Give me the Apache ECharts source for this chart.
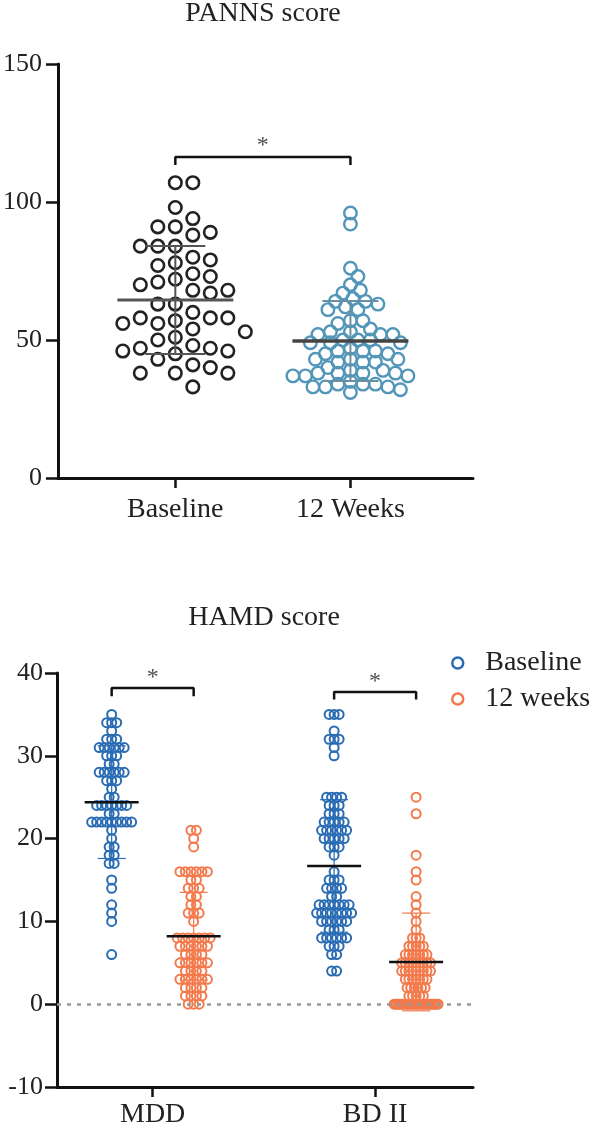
<!DOCTYPE html>
<html>
<head>
<meta charset="utf-8">
<script src="https://cdn.jsdelivr.net/npm/echarts@6/dist/echarts.min.js"></script>
<style>
  html, body { margin: 0; padding: 0; background: #fff; }
  #chart { width: 595px; height: 1129px; }
</style>
</head>
<body>
<div id="chart"></div>
<script>
// ---- PANNS score (top panel) ----
const pannsGroups = ['Baseline', '12 Weeks'];
const pannsBaseline = [107, 107, 98, 94, 91, 91, 89, 88, 84, 84, 84, 80, 79, 78, 77, 74, 73, 72, 71, 70,
  68, 68, 67, 63, 63, 60, 58, 58, 58, 57, 56, 56, 54, 53, 51, 50, 48, 47, 47, 46, 46, 45, 43, 41, 40,
  38, 38, 38, 33];
const panns12w = [96, 92, 76, 73, 70, 68, 67, 65, 64, 64, 63, 62, 61, 61, 57, 57, 56, 54, 53, 53, 52, 52,
  52, 50, 50, 50, 49, 49, 49, 47, 46, 46, 46, 45, 45, 43, 43, 43, 42, 42, 42, 40, 39, 39, 38, 38, 38, 38,
  37, 37, 37, 35, 34, 34, 34, 33, 33, 33, 32, 31];
const pannsMean = [64.5, 49.6];
const pannsSD = [19.6, 14.5];
// bracket: [from group, to group, top y, arm end y, star y]
const pannsBracket = [1, 2, 116.3, 113.4, 120.5];

// ---- HAMD score (bottom panel) ----
const hamdGroups = ['MDD', 'BD II'];
const hamdSeriesNames = ['Baseline', '12 weeks'];
const hamdMddBaseline = [35, 34, 34, 34, 33, 32, 32, 32, 31, 31, 31, 31, 31, 31, 30, 30, 30, 29, 29,
  28, 28, 28, 28, 28, 28, 27, 27, 27, 26, 25, 25, 24, 24, 24, 24, 24, 24, 24, 23, 23,
  22, 22, 22, 22, 22, 22, 22, 22, 22, 21, 20, 19, 19, 18, 18, 17, 17, 15, 14, 12, 11, 10, 6];
const hamdMdd12w = [21, 21, 20, 19, 16, 16, 16, 16, 16, 16, 15, 15, 14, 14, 14, 13, 13, 12, 12, 11, 11, 11,
  10, 8, 8, 8, 8, 8, 8, 8, 7, 7, 7, 7, 7, 7, 6, 6, 6, 6, 5, 5, 5, 5, 5, 5, 4, 4, 4, 4,
  3, 3, 3, 3, 3, 3, 2, 2, 2, 2, 1, 1, 1, 1, 0, 0, 0];
const hamdBd2Baseline = [35, 35, 35, 33, 32, 32, 32, 31, 30, 25, 25, 25, 25, 24, 24, 24, 23, 23, 23,
  22, 22, 22, 22, 22, 21, 21, 21, 21, 21, 21, 20, 20, 20, 20, 20, 19, 19, 19, 18, 16, 15, 15, 15,
  14, 14, 14, 14, 13, 13, 12, 12, 12, 12, 12, 12, 12, 11, 11, 11, 11, 11, 11, 11, 11,
  10, 10, 10, 10, 10, 10, 9, 9, 9, 8, 8, 8, 8, 8, 8, 7, 7, 7, 6, 6, 4, 4];
const hamdBd212w = [25, 23, 18, 16, 15, 13, 12, 11, 10, 9, 8, 8, 8, 7, 7, 7, 7, 7, 6, 6, 6, 6, 6, 6, 6,
  5, 5, 5, 5, 5, 5, 5, 5, 5, 4, 4, 4, 4, 4, 4, 4, 4, 4, 3, 3, 3, 3, 3, 3, 3, 2, 2, 2, 2, 2, 2,
  1, 1, 1, 1, 1,
  0, 0, 0, 0, 0, 0, 0, 0, 0, 0, 0, 0, 0, 0, 0, 0, 0, 0, 0, 0, 0, 0, 0, 0, 0, 0];
const hamdBaselineMean = [24.4, 16.7];
const hamdBaselineSD = [6.8, 8.0];
const hamd12wMean = [8.2, 5.1];
const hamd12wSD = [5.3, 5.9];
// bracket: [group, top y, arm end y, star y]
const hamdBrackets = [
  [1, 38.2, 37.2, 39.4],
  [2, 37.7, 36.8, 38.9]
];

// ---- layout ----
const FONT = "'Liberation Serif', 'Times New Roman', serif";
const TOP = { left: 58, top: 64, width: 415, height: 414, xMin: 0.33, xMax: 2.7, yMin: 0, yMax: 150 };
const BOT = { left: 57, top: 673, width: 416, height: 415, xMin: 0.57, xMax: 2.44, yMin: -10, yMax: 40 };
const pxX = g => g.width / (g.xMax - g.xMin);
const pxY = g => g.height / (g.yMax - g.yMin);
const HAMD_DODGE = 41; // px between group centre and each series column

const colors = {
  pannsBase: '#222222',
  panns12: '#5296b9',
  hamdBase: '#2a6cb3',
  hamd12: '#f37a4c'
};

// beeswarm: place each point at the nearest free slot to the centre (pixel space)
function swarm(values, step, minDist, perY) {
  const order = values.map((v, i) => i).sort((a, b) => values[b] - values[a]);
  const placed = [];
  const out = new Array(values.length);
  order.forEach(i => {
    const y = values[i] * perY;
    for (let k = 0; k < 200; k++) {
      const cands = k === 0 ? [0] : [k * step, -k * step];
      const x = cands.find(c => placed.every(p => Math.hypot(p.x - c, p.y - y) >= minDist));
      if (x !== undefined) { placed.push({ x, y }); out[i] = x; break; }
    }
  });
  return out;
}

// rows of equal values spread side by side, compressed when too wide
function rows(values, step, maxSpan) {
  const counts = {};
  values.forEach(v => { counts[v] = (counts[v] || 0) + 1; });
  const seen = {};
  return values.map(v => {
    const n = counts[v];
    const s = n > 1 ? Math.min(step, maxSpan / (n - 1)) : 0;
    seen[v] = seen[v] === undefined ? 0 : seen[v] + 1;
    return (seen[v] - (n - 1) / 2) * s;
  });
}

const toPoints = (values, offs, centre, g) => values.map((v, i) => [centre + offs[i] / pxX(g), v]);

const pannsBasePts = toPoints(pannsBaseline, swarm(pannsBaseline, 17.5, 16, pxY(TOP)), 1, TOP);
const panns12Pts = toPoints(panns12w, swarm(panns12w, 2.5, 10.5, pxY(TOP)), 2, TOP);

const dodge = HAMD_DODGE / pxX(BOT);
const hamdBasePts = toPoints(hamdMddBaseline, rows(hamdMddBaseline, 5, 44), 1 - dodge, BOT)
  .concat(toPoints(hamdBd2Baseline, rows(hamdBd2Baseline, 5, 44), 2 - dodge, BOT));
const hamd12Pts = toPoints(hamdMdd12w, rows(hamdMdd12w, 5.5, 44), 1 + dodge, BOT)
  .concat(toPoints(hamdBd212w, rows(hamdBd212w, 3.6, 44), 2 + dodge, BOT));

// mean +/- SD marks
function meanSdSeries(data, xi, styles) {
  return {
    type: 'custom',
    xAxisIndex: xi, yAxisIndex: xi,
    z: 5,
    silent: true,
    encode: { x: 0, y: 1 },
    data: data,
    renderItem: (params, api) => {
      const st = styles[params.dataIndex];
      const x = api.value(0), m = api.value(1), sd = api.value(2);
      const c = api.coord([x, m]);
      const hi = api.coord([x, m + sd]);
      const lo = api.coord([x, m - sd]);
      const sdStyle = { stroke: st.sd, lineWidth: st.sdWidth };
      return {
        type: 'group',
        children: [
          { type: 'line', shape: { x1: c[0], y1: hi[1], x2: c[0], y2: lo[1] }, style: sdStyle },
          { type: 'line', shape: { x1: c[0] - st.cap, y1: hi[1], x2: c[0] + st.cap, y2: hi[1] }, style: sdStyle },
          { type: 'line', shape: { x1: c[0] - st.cap, y1: lo[1], x2: c[0] + st.cap, y2: lo[1] }, style: sdStyle },
          { type: 'line', shape: { x1: c[0] - st.half, y1: c[1], x2: c[0] + st.half, y2: c[1] },
            style: { stroke: st.mean, lineWidth: st.meanWidth } }
        ]
      };
    }
  };
}

function bracketSeries(from, to, yTop, yArm, xi, extra) {
  return Object.assign({
    type: 'line',
    xAxisIndex: xi, yAxisIndex: xi,
    symbol: 'none',
    silent: true,
    lineStyle: { color: '#111', width: 2.5 },
    data: [[from, yArm], [from, yTop], [to, yTop], [to, yArm]]
  }, extra || {});
}

function starSeries(points, xi) {
  return {
    type: 'scatter',
    xAxisIndex: xi, yAxisIndex: xi,
    symbolSize: 0,
    silent: true,
    data: points,
    label: {
      show: true, position: 'inside', formatter: '*',
      fontFamily: FONT, fontSize: 24, color: '#222'
    }
  };
}

const axisLine = { show: true, onZero: false, lineStyle: { color: '#111', width: 3 } };
const tickStyle = { show: true, inside: false, lineStyle: { color: '#111', width: 2.5 } };
const numStyle = { fontFamily: FONT, fontSize: 26, color: '#222' };
const wordStyle = { fontFamily: FONT, fontSize: 28, color: '#222' };

function ring(color, size, width) {
  return {
    symbol: 'circle',
    symbolSize: size,
    itemStyle: { color: 'rgba(0,0,0,0)', borderColor: color, borderWidth: width, opacity: 1 }
  };
}

const hb = hamdBrackets;

const option = {
  animation: false,
  backgroundColor: '#fff',
  title: [
    { text: 'PANNS score', left: 263, top: 0, textAlign: 'center', padding: 0,
      textStyle: { fontFamily: FONT, fontSize: 28, fontWeight: 'normal', color: '#222' } },
    { text: 'HAMD score', left: 264, top: 604, textAlign: 'center', padding: 0,
      textStyle: { fontFamily: FONT, fontSize: 28, fontWeight: 'normal', color: '#222' } }
  ],
  legend: {
    data: hamdSeriesNames.map((n, i) => ({
      name: n, icon: 'circle',
      itemStyle: { color: 'rgba(0,0,0,0)', borderColor: i ? colors.hamd12 : colors.hamdBase, borderWidth: 2.5 }
    })),
    orient: 'vertical',
    left: 451, top: 649,
    itemWidth: 11, itemHeight: 11, itemGap: 8,
    padding: 0,
    selectedMode: false,
    textStyle: { fontFamily: FONT, fontSize: 28, color: '#222', padding: [0, 0, 0, 17] }
  },
  grid: [
    { left: TOP.left, top: TOP.top, width: TOP.width, height: TOP.height },
    { left: BOT.left, top: BOT.top, width: BOT.width, height: BOT.height }
  ],
  xAxis: [
    {
      type: 'value', gridIndex: 0, min: TOP.xMin, max: TOP.xMax,
      axisLine, splitLine: { show: false },
      axisTick: Object.assign({ customValues: [1, 2], length: 10 }, tickStyle),
      axisLabel: Object.assign({ customValues: [1, 2], margin: 18,
        formatter: v => pannsGroups[Math.round(v) - 1] }, wordStyle)
    },
    {
      type: 'value', gridIndex: 1, min: BOT.xMin, max: BOT.xMax,
      axisLine, splitLine: { show: false },
      axisTick: Object.assign({ customValues: [1, 2], length: 10 }, tickStyle),
      axisLabel: Object.assign({ customValues: [1, 2], margin: 14,
        formatter: v => hamdGroups[Math.round(v) - 1] }, wordStyle)
    }
  ],
  yAxis: [
    {
      type: 'value', gridIndex: 0, min: TOP.yMin, max: TOP.yMax, interval: 50,
      axisLine, splitLine: { show: false },
      axisTick: Object.assign({ length: 12 }, tickStyle),
      axisLabel: Object.assign({ margin: 16 }, numStyle)
    },
    {
      type: 'value', gridIndex: 1, min: BOT.yMin, max: BOT.yMax, interval: 10,
      axisLine, splitLine: { show: false },
      axisTick: Object.assign({ length: 12 }, tickStyle),
      axisLabel: Object.assign({ margin: 14 }, numStyle)
    }
  ],
  series: [
    // PANNS
    Object.assign({ type: 'scatter', name: 'PANNS Baseline', xAxisIndex: 0, yAxisIndex: 0, z: 3,
      data: pannsBasePts }, ring(colors.pannsBase, 12.5, 2.6)),
    Object.assign({ type: 'scatter', name: 'PANNS 12 Weeks', xAxisIndex: 0, yAxisIndex: 0, z: 3,
      data: panns12Pts }, ring(colors.panns12, 12.5, 2.4)),
    meanSdSeries(pannsMean.map((m, i) => [i + 1, m, pannsSD[i]]), 0, [
      { mean: '#555', sd: '#555', meanWidth: 3, sdWidth: 2, half: 58, cap: 30 },
      { mean: '#444', sd: '#6a8fa3', meanWidth: 3.5, sdWidth: 2, half: 58, cap: 28 }
    ]),
    bracketSeries(pannsBracket[0], pannsBracket[1], pannsBracket[2], pannsBracket[3], 0),
    starSeries([[(pannsBracket[0] + pannsBracket[1]) / 2, pannsBracket[4]]], 0),

    // HAMD
    Object.assign({ type: 'scatter', name: hamdSeriesNames[0], xAxisIndex: 1, yAxisIndex: 1, z: 3,
      data: hamdBasePts }, ring(colors.hamdBase, 9, 2)),
    Object.assign({ type: 'scatter', name: hamdSeriesNames[1], xAxisIndex: 1, yAxisIndex: 1, z: 3,
      data: hamd12Pts }, ring(colors.hamd12, 9, 2)),
    meanSdSeries([
      [1 - dodge, hamdBaselineMean[0], hamdBaselineSD[0]],
      [2 - dodge, hamdBaselineMean[1], hamdBaselineSD[1]],
      [1 + dodge, hamd12wMean[0], hamd12wSD[0]],
      [2 + dodge, hamd12wMean[1], hamd12wSD[1]]
    ], 1, [
      { mean: '#111', sd: colors.hamdBase, meanWidth: 2.5, sdWidth: 1.2, half: 27, cap: 14 },
      { mean: '#111', sd: colors.hamdBase, meanWidth: 2.5, sdWidth: 1.2, half: 27, cap: 14 },
      { mean: '#111', sd: colors.hamd12, meanWidth: 2.5, sdWidth: 1.2, half: 27, cap: 14 },
      { mean: '#111', sd: colors.hamd12, meanWidth: 2.5, sdWidth: 1.2, half: 27, cap: 14 }
    ]),
    bracketSeries(hb[0][0] - dodge, hb[0][0] + dodge, hb[0][1], hb[0][2], 1, {
      z: 1,
      markLine: {
        silent: true, symbol: 'none', label: { show: false },
        lineStyle: { color: '#999', type: [4, 6], width: 2.5 },
        data: [{ yAxis: 0 }]
      }
    }),
    bracketSeries(hb[1][0] - dodge, hb[1][0] + dodge, hb[1][1], hb[1][2], 1),
    starSeries(hb.map(b => [b[0], b[3]]), 1)
  ]
};

const chart = echarts.init(document.getElementById('chart'));
chart.setOption(option);
</script>
</body>
</html>
